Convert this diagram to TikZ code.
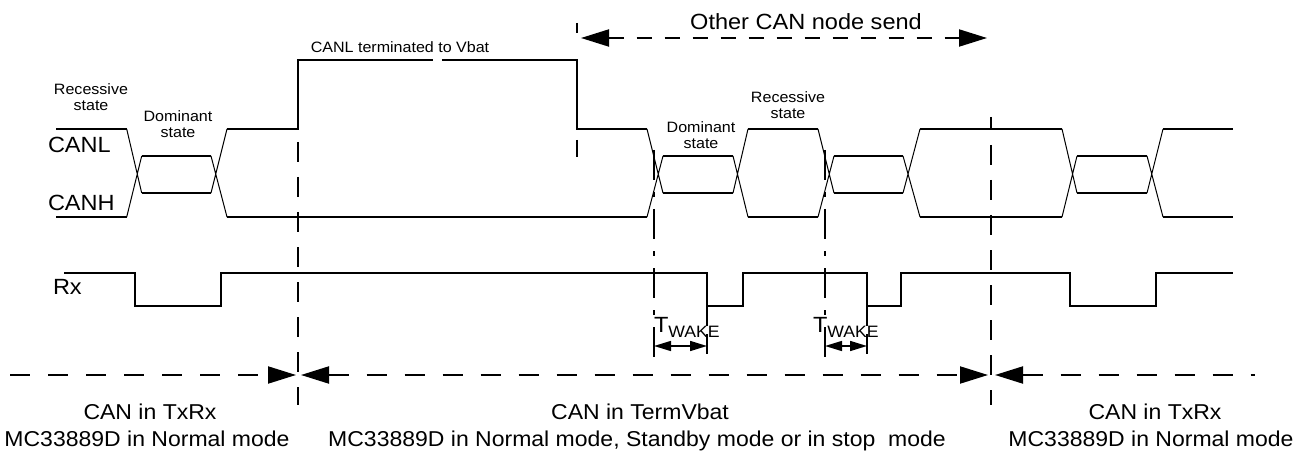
\documentclass[tikz,border=0pt]{standalone}
\usepackage{fontspec}
\setmainfont{Liberation Sans}[FakeStretch=1.07]
\usetikzlibrary{arrows.meta}
\begin{document}
\begin{tikzpicture}[x=1bp,y=-1bp,
  sig/.style={line width=2bp, line join=miter},
  diag/.style={line width=1bp},
  vdash/.style={line width=2bp, dash pattern=on 20bp off 15bp},
  hdash/.style={line width=2bp, dash pattern=on 20bp off 18bp},
  tdash/.style={line width=2bp, dash pattern=on 15bp off 13bp},
  ddot/.style={line width=2bp, dash pattern=on 30bp off 12bp on 5bp off 12bp},
  sdash/.style={line width=2bp, dash pattern=on 20bp off 8bp},
  bigtip/.style={-{Triangle[length=28bp,width=17bp]}},
  bigtips/.style={{Triangle[length=28bp,width=17bp]}-{Triangle[length=28bp,width=17bp]}},
  lefttip/.style={{Triangle[length=28bp,width=17bp]}-},
  smalltips/.style={{Triangle[length=17bp,width=10bp]}-{Triangle[length=17bp,width=10bp]}},
  txt/.style={inner sep=0pt, outer sep=0pt},
  big/.style={txt, font=\fontsize{22bp}{26bp}\selectfont},
  small/.style={txt, font=\fontsize{15bp}{16bp}\selectfont},
  bot/.style={txt, font=\fontsize{21.5bp}{26bp}\selectfont}]
\useasboundingbox (0,0) rectangle (1310,454);

% ---------- CANL / CANH ----------
\foreach \a/\b/\c/\d in {126.7/141.7/211/227, 647/663/733/748, 818/834/903/920, 1062/1077/1147/1163} {
  \draw[diag] (\a,129)--(\b,193) (\a,217)--(\b,156) (\c,193)--(\d,129) (\c,156)--(\d,217);
  \draw[sig] (\b,193)--(\c,193) (\b,156)--(\c,156);
}
\draw[sig] (56,129)--(126.7,129) (56,217)--(126.7,217);
\draw[sig] (227,129)--(298,129)--(298,60)--(433,60);
\draw[sig] (442,60)--(577,60)--(577,129)--(647,129);
\draw[sig] (227,217)--(647,217);
\draw[sig] (748,129)--(818,129) (748,217)--(818,217);
\draw[sig] (920,129)--(1062,129) (920,217)--(1062,217);
\draw[sig] (1163,129)--(1233,129) (1163,217)--(1233,217);

% ---------- Rx ----------
\draw[sig] (64,273)--(135,273)--(135,306)--(221,306)--(221,273)--(707,273)--(707,306)--(743,306)--(743,273)
  --(867,273)--(867,306)--(901,306)--(901,273)--(1070,273)--(1070,306)--(1156,306)--(1156,273)--(1233,273);

% ---------- vertical markers ----------
\draw[vdash] (298,142)--(298,405);
\draw[vdash, dash phase=7bp] (991,117)--(991,405);
\draw[sig] (577,23)--(577,33);
\draw[sig] (577,140)--(577,157);
\draw[ddot] (654,150)--(654,357);
\draw[ddot] (825,150)--(825,357);
\draw[sdash] (707,306)--(707,357);
\draw[sdash] (867,306)--(867,357);

% ---------- arrows ----------
\coordinate (topL) at (581,38);
\coordinate (topR) at (987,38);
\draw[tdash, bigtips] (topL)--(topR);

\coordinate (b0) at (10,375);
\coordinate (b1) at (296,375);
\coordinate (b2) at (301,375);
\coordinate (b3) at (988,375);
\coordinate (b4) at (995,375);
\coordinate (b5) at (1255,375);
\draw[hdash, bigtip] (b0)--(b1);
\draw[hdash, bigtips] (b2)--(b3);
\draw[hdash, lefttip] (b4)--(b5);

\coordinate (w1a) at (654,346);
\coordinate (w1b) at (707,346);
\coordinate (w2a) at (825,346);
\coordinate (w2b) at (867,346);
\draw[line width=1.5bp, smalltips] (w1a)--(w1b);
\draw[line width=1.5bp, smalltips] (w2a)--(w2b);

% ---------- labels ----------
\node[big, anchor=base] (other) at (806,30) {Other CAN node send};
\node[small, anchor=base] (vbat) at (400,53) {CANL terminated to Vbat};
\node[small, anchor=base] (rec1) at (91,95) {Recessive};
\node[small, anchor=base] (rec1s) at (91,111) {state};
\node[small, anchor=base] (dom1) at (178,122) {Dominant};
\node[small, anchor=base] (dom1s) at (178,138) {state};
\node[small, anchor=base] (dom2) at (701,133) {Dominant};
\node[small, anchor=base] (dom2s) at (701,149) {state};
\node[small, anchor=base] (rec2) at (788,103) {Recessive};
\node[small, anchor=base] (rec2s) at (788,119) {state};
\node[big, anchor=base west] (canl) at (48,153) {CANL};
\node[big, anchor=base west] (canh) at (48,211) {CANH};
\node[big, anchor=base west] (rx) at (53,295) {Rx};
\node[big, anchor=base west] (tw1) at (654,332) {T\raisebox{-5bp}{\fontsize{16.5bp}{18bp}\selectfont WAKE}};
\node[big, anchor=base west] (tw2) at (813,332) {T\raisebox{-5bp}{\fontsize{16.5bp}{18bp}\selectfont WAKE}};

\node[bot, anchor=base] (m1a) at (150,419) {CAN in TxRx};
\node[bot, anchor=base] (m1b) at (147,446) {MC33889D in Normal mode};
\node[bot, anchor=base] (m2a) at (640,419) {CAN in TermVbat};
\node[bot, anchor=base] (m2b) at (637,446) {MC33889D in Normal mode, Standby mode or in stop\ \ mode};
\node[bot, anchor=base] (m3a) at (1155,419) {CAN in TxRx};
\node[bot, anchor=base] (m3b) at (1151,446) {MC33889D in Normal mode};
\end{tikzpicture}
\end{document}
